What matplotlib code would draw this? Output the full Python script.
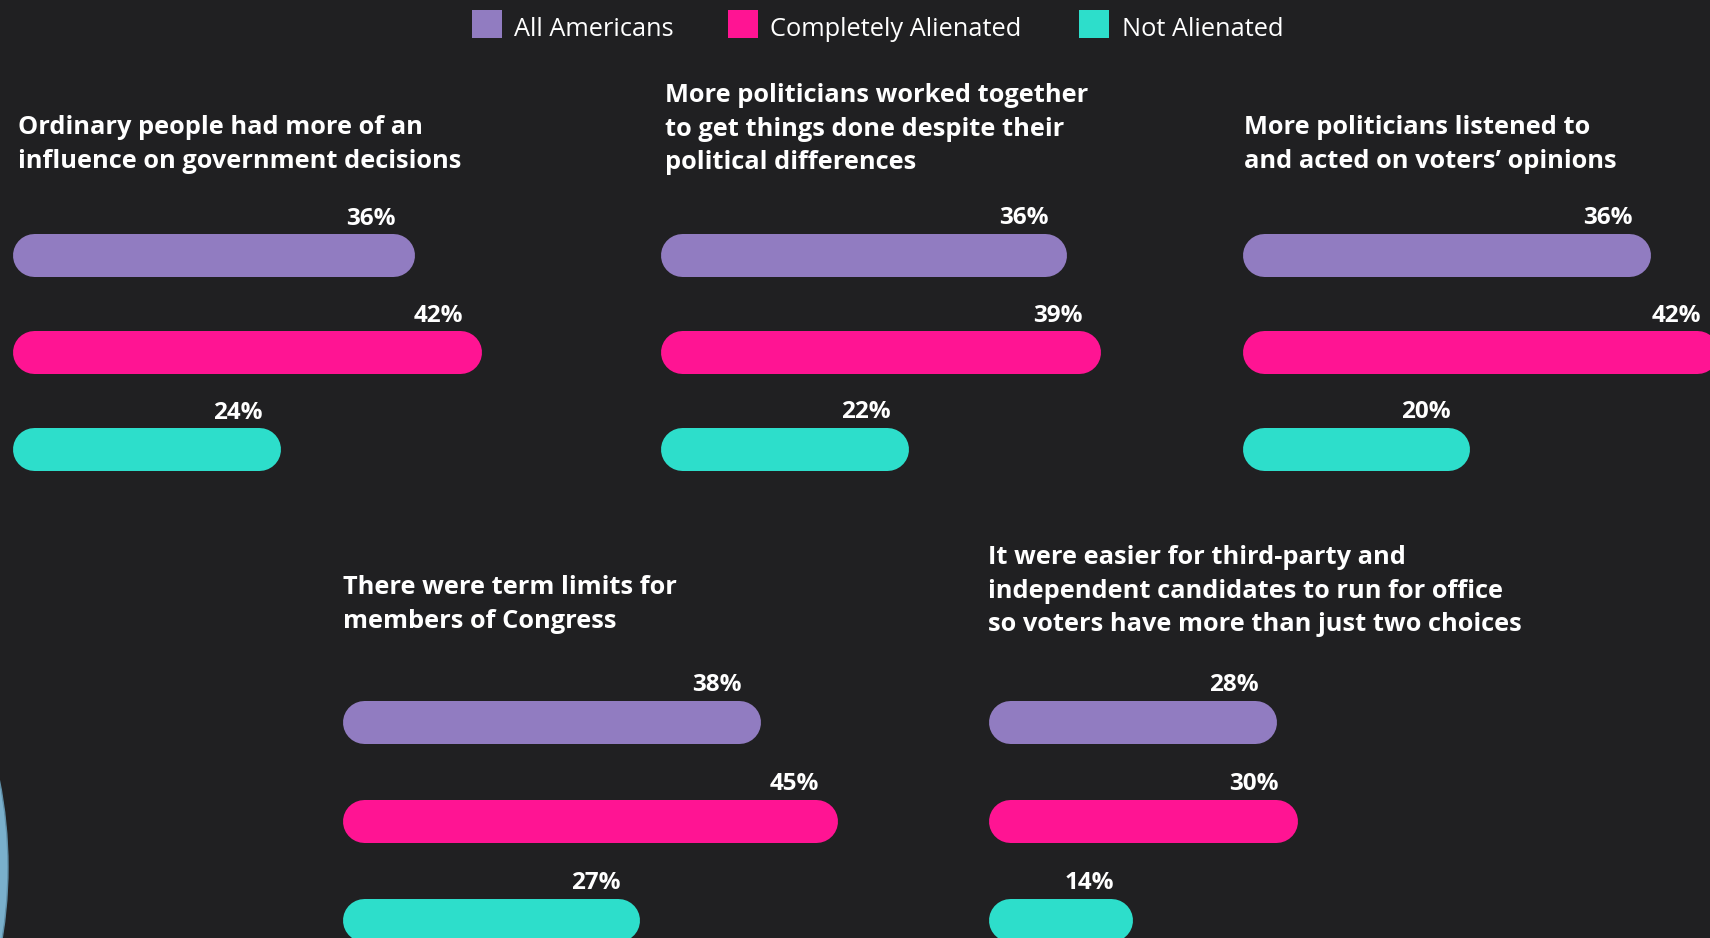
import numpy as np
import matplotlib.pyplot as plt
from matplotlib.patches import Ellipse, Rectangle

# data
titles = [
    "Ordinary people had more of an\ninfluence on government decisions",
    "More politicians worked together\nto get things done despite their\npolitical differences",
    "More politicians listened to\nand acted on voters\u2019 opinions",
    "There were term limits for\nmembers of Congress",
    "It were easier for third-party and\nindependent candidates to run for office\nso voters have more than just two choices",
]
series = ["All Americans", "Completely Alienated", "Not Alienated"]
all_americans = [36, 36, 36, 38, 28]
completely_alienated = [42, 39, 42, 45, 30]
not_alienated = [24, 22, 20, 27, 14]
colors = ["#917CC1", "#FF1493", "#2DDECB"]

bg = "#202022"
W, H = 1710, 938
font = "Open Sans"

# layout in pixels
bar_left = [12, 660, 1242, 342, 988]
px_per_pct = [11.17, 11.3, 11.35, 11.0, 10.3]
first_center = [255.5, 255, 255, 721.5, 721.5]
spacing = [97, 97, 97, 99, 99]
title_x = [18, 665, 1244, 343, 988]
title_y = [134, 102, 134, 594, 564]
line_step = 33.5
bar_h = 43

fig = plt.figure(figsize=(W / 100, H / 100), dpi=100, facecolor=bg)

# decorative circle at bottom-left
fig.add_artist(Ellipse((-437 / W, 1 - 867 / H), 2 * 445 / W, 2 * 445 / H,
                       facecolor="#7AB0CC", edgecolor="#5f8fa8", lw=1,
                       transform=fig.transFigure))

vals = np.array([all_americans, completely_alienated, not_alienated])
for p in range(5):
    s = px_per_pct[p]
    c0 = first_center[p]
    sp = spacing[p]
    top = c0 - sp / 2
    bottom = c0 + 2.5 * sp
    ax = fig.add_axes([bar_left[p] / W, 1 - bottom / H, 50 * s / W, (bottom - top) / H])
    ax.set_xlim(0, 50)
    ax.set_ylim(2.5, -0.5)
    ax.axis("off")
    r = (bar_h / 2) / s
    for i in range(3):
        v = vals[i, p]
        ax.plot([r, v - r], [i, i], color=colors[i], lw=bar_h * 0.72,
                solid_capstyle="round", clip_on=False)
        ax.annotate(f"{v}%", xy=(v, i), xytext=(-18, 30.5), textcoords="offset pixels",
                    ha="right", va="baseline", color="white", fontsize=17.5,
                    fontweight="bold", family=font, annotation_clip=False)
    for k, line in enumerate(titles[p].split("\n")):
        fig.text(title_x[p] / W, 1 - (title_y[p] + k * line_step) / H, line,
                 color="white", fontsize=18.3, fontweight="bold", family=font,
                 ha="left", va="baseline")

# legend
sq_x = [472, 728, 1079]
txt_x = [514, 770, 1122]
for i in range(3):
    fig.add_artist(Rectangle((sq_x[i] / W, 1 - 38 / H), 30 / W, 28 / H,
                             facecolor=colors[i], edgecolor="none",
                             transform=fig.transFigure))
    fig.text(txt_x[i] / W, 1 - 36 / H, series[i], color="white", fontsize=18.3,
             family=font, fontweight="normal", ha="left", va="baseline")

fig.savefig("out.png", dpi=100, facecolor=bg)
